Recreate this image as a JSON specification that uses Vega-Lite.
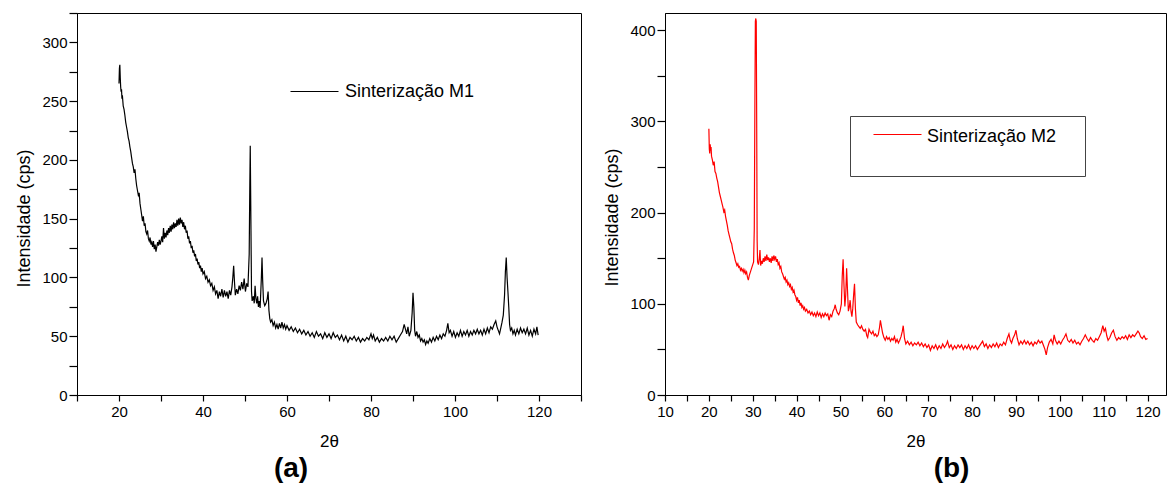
{
  "$schema": "https://vega.github.io/schema/vega-lite/v6.json",
  "padding": {"left": 15, "top": 11, "right": 0, "bottom": 0},
  "background": "white",
  "config": {
    "view": {"stroke": "black", "strokeWidth": 1},
    "font": "Liberation Sans",
    "axis": {"grid": false, "domainColor": "black", "tickColor": "black", "labelColor": "black", "titleColor": "black", "labelFont": "Liberation Sans", "titleFont": "Liberation Sans", "labelFontSize": 15, "titleFontSize": 18, "titleFontWeight": "normal", "domainWidth": 1, "tickWidth": 1.2, "ticks": true},
    "legend": {"labelFont": "Liberation Sans", "labelFontSize": 18, "labelColor": "black", "symbolType": "stroke", "symbolSize": 2304, "symbolStrokeWidth": 1}
  },
  "datasets": {
    "m1": [
      {"x":20,"y":265},{"x":20.1,"y":278},{"x":20.2,"y":281},{"x":20.3,"y":270},{"x":20.4,"y":262},{"x":20.5,"y":258},{"x":20.6,"y":260},{"x":20.7,"y":252},{"x":20.8,"y":255},{"x":21,"y":246},{"x":21.2,"y":243},{"x":21.4,"y":238},{"x":21.6,"y":232},{"x":21.8,"y":228},{"x":22,"y":224},{"x":22.2,"y":219},{"x":22.4,"y":216},{"x":22.6,"y":211},{"x":22.8,"y":207},{"x":23,"y":202},{"x":23.2,"y":197},{"x":23.4,"y":194},{"x":23.6,"y":189},{"x":23.8,"y":192},{"x":24,"y":184},{"x":24.2,"y":178},{"x":24.4,"y":174},{"x":24.6,"y":170},{"x":24.8,"y":172},{"x":25,"y":163},{"x":25.2,"y":158},{"x":25.4,"y":153},{"x":25.6,"y":148},{"x":25.8,"y":152},{"x":26,"y":144},{"x":26.2,"y":146},{"x":26.4,"y":139},{"x":26.6,"y":137},{"x":26.8,"y":140},{"x":27,"y":133},{"x":27.2,"y":131},{"x":27.4,"y":134},{"x":27.6,"y":128},{"x":27.8,"y":130},{"x":28,"y":126},{"x":28.2,"y":131},{"x":28.4,"y":124},{"x":28.6,"y":128},{"x":28.8,"y":122},{"x":29,"y":126},{"x":29.2,"y":130},{"x":29.4,"y":127},{"x":29.6,"y":132},{"x":29.8,"y":128},{"x":30,"y":131},{"x":30.2,"y":135},{"x":30.4,"y":130},{"x":30.6,"y":142},{"x":30.8,"y":133},{"x":31,"y":138},{"x":31.2,"y":134},{"x":31.4,"y":140},{"x":31.6,"y":136},{"x":31.8,"y":142},{"x":32,"y":138},{"x":32.2,"y":144},{"x":32.4,"y":139},{"x":32.6,"y":145},{"x":32.8,"y":141},{"x":33,"y":147},{"x":33.2,"y":142},{"x":33.4,"y":146},{"x":33.6,"y":143},{"x":33.8,"y":149},{"x":34,"y":144},{"x":34.2,"y":150},{"x":34.4,"y":145},{"x":34.6,"y":151},{"x":34.8,"y":146},{"x":35,"y":149},{"x":35.2,"y":143},{"x":35.4,"y":147},{"x":35.6,"y":141},{"x":35.8,"y":144},{"x":36,"y":138},{"x":36.2,"y":140},{"x":36.4,"y":133},{"x":36.6,"y":135},{"x":36.8,"y":129},{"x":37,"y":131},{"x":37.2,"y":125},{"x":37.4,"y":127},{"x":37.6,"y":121},{"x":37.8,"y":123},{"x":38,"y":118},{"x":38.2,"y":120},{"x":38.4,"y":114},{"x":38.6,"y":116},{"x":38.8,"y":111},{"x":39,"y":113},{"x":39.2,"y":108},{"x":39.4,"y":110},{"x":39.6,"y":105},{"x":39.8,"y":108},{"x":40,"y":103},{"x":40.3,"y":105},{"x":40.6,"y":99},{"x":40.9,"y":101},{"x":41.2,"y":96},{"x":41.5,"y":98},{"x":41.8,"y":93},{"x":42.1,"y":95},{"x":42.4,"y":89},{"x":42.7,"y":92},{"x":43,"y":86},{"x":43.3,"y":89},{"x":43.6,"y":82},{"x":43.9,"y":88},{"x":44.2,"y":84},{"x":44.5,"y":90},{"x":44.8,"y":83},{"x":45.1,"y":89},{"x":45.4,"y":84},{"x":45.7,"y":88},{"x":46,"y":82},{"x":46.3,"y":89},{"x":46.6,"y":85},{"x":46.9,"y":92},{"x":47.1,"y":100},{"x":47.3,"y":110},{"x":47.5,"y":96},{"x":47.7,"y":85},{"x":48,"y":90},{"x":48.3,"y":86},{"x":48.6,"y":93},{"x":48.9,"y":89},{"x":49.2,"y":96},{"x":49.5,"y":90},{"x":49.8,"y":99},{"x":50.1,"y":88},{"x":50.4,"y":95},{"x":50.7,"y":92},{"x":51,"y":120},{"x":51.15,"y":180},{"x":51.25,"y":212},{"x":51.4,"y":150},{"x":51.55,"y":88},{"x":51.7,"y":80},{"x":52,"y":84},{"x":52.2,"y":78},{"x":52.4,"y":93},{"x":52.6,"y":82},{"x":52.8,"y":78},{"x":53,"y":84},{"x":53.2,"y":75},{"x":53.4,"y":80},{"x":53.6,"y":74},{"x":53.9,"y":100},{"x":54.05,"y":117},{"x":54.2,"y":98},{"x":54.4,"y":80},{"x":54.7,"y":76},{"x":55,"y":78},{"x":55.3,"y":82},{"x":55.5,"y":88},{"x":55.7,"y":72},{"x":55.9,"y":65},{"x":56.1,"y":62},{"x":56.4,"y":64},{"x":56.7,"y":59},{"x":57,"y":62},{"x":57.3,"y":57},{"x":57.6,"y":60},{"x":57.9,"y":56},{"x":58.2,"y":61},{"x":58.5,"y":57},{"x":58.8,"y":62},{"x":59.1,"y":57},{"x":59.4,"y":60},{"x":59.7,"y":56},{"x":60,"y":59},{"x":60.5,"y":55},{"x":61,"y":58},{"x":61.5,"y":54},{"x":62,"y":57},{"x":62.5,"y":53},{"x":63,"y":56},{"x":63.5,"y":52},{"x":64,"y":55},{"x":64.5,"y":51},{"x":65,"y":54},{"x":65.5,"y":50},{"x":66,"y":53},{"x":66.5,"y":49},{"x":67,"y":54},{"x":67.5,"y":50},{"x":68,"y":52},{"x":68.5,"y":48},{"x":69,"y":53},{"x":69.5,"y":49},{"x":70,"y":52},{"x":70.5,"y":48},{"x":71,"y":53},{"x":71.5,"y":49},{"x":72,"y":51},{"x":72.5,"y":47},{"x":73,"y":51},{"x":73.5,"y":46},{"x":74,"y":50},{"x":74.5,"y":45},{"x":75,"y":49},{"x":75.5,"y":47},{"x":76,"y":50},{"x":76.5,"y":46},{"x":77,"y":49},{"x":77.5,"y":45},{"x":78,"y":48},{"x":78.5,"y":46},{"x":79,"y":49},{"x":79.5,"y":47},{"x":80,"y":52},{"x":80.3,"y":48},{"x":80.6,"y":51},{"x":81,"y":46},{"x":81.5,"y":49},{"x":82,"y":45},{"x":82.5,"y":48},{"x":83,"y":46},{"x":83.5,"y":49},{"x":84,"y":46},{"x":84.5,"y":50},{"x":85,"y":47},{"x":85.5,"y":50},{"x":86,"y":45},{"x":86.5,"y":48},{"x":87,"y":51},{"x":87.5,"y":54},{"x":87.9,"y":60},{"x":88.2,"y":56},{"x":88.5,"y":52},{"x":88.8,"y":58},{"x":89.1,"y":50},{"x":89.5,"y":55},{"x":89.8,"y":70},{"x":90,"y":87},{"x":90.2,"y":75},{"x":90.4,"y":55},{"x":90.6,"y":50},{"x":90.9,"y":54},{"x":91.2,"y":49},{"x":91.5,"y":51},{"x":91.8,"y":46},{"x":92.1,"y":48},{"x":92.4,"y":45},{"x":92.7,"y":47},{"x":93,"y":43},{"x":93.3,"y":46},{"x":93.6,"y":44},{"x":94,"y":48},{"x":94.4,"y":45},{"x":94.8,"y":49},{"x":95.2,"y":46},{"x":95.6,"y":50},{"x":96,"y":47},{"x":96.4,"y":51},{"x":96.8,"y":48},{"x":97.2,"y":52},{"x":97.6,"y":50},{"x":98,"y":55},{"x":98.3,"y":61},{"x":98.6,"y":53},{"x":98.9,"y":55},{"x":99.3,"y":50},{"x":99.7,"y":54},{"x":100.1,"y":49},{"x":100.5,"y":53},{"x":100.9,"y":50},{"x":101.3,"y":55},{"x":101.7,"y":50},{"x":102.1,"y":54},{"x":102.5,"y":51},{"x":102.9,"y":55},{"x":103.3,"y":50},{"x":103.7,"y":54},{"x":104.1,"y":51},{"x":104.5,"y":55},{"x":104.9,"y":52},{"x":105.3,"y":56},{"x":105.7,"y":52},{"x":106.1,"y":55},{"x":106.5,"y":51},{"x":106.9,"y":56},{"x":107.3,"y":52},{"x":107.7,"y":57},{"x":108.1,"y":53},{"x":108.5,"y":58},{"x":108.9,"y":56},{"x":109.3,"y":60},{"x":109.7,"y":63},{"x":110,"y":58},{"x":110.3,"y":55},{"x":110.6,"y":52},{"x":110.9,"y":57},{"x":111.2,"y":62},{"x":111.5,"y":68},{"x":111.8,"y":85},{"x":112,"y":105},{"x":112.2,"y":117},{"x":112.4,"y":100},{"x":112.6,"y":88},{"x":112.8,"y":75},{"x":113,"y":60},{"x":113.2,"y":55},{"x":113.5,"y":57},{"x":113.8,"y":52},{"x":114.1,"y":55},{"x":114.4,"y":51},{"x":114.8,"y":56},{"x":115.2,"y":52},{"x":115.6,"y":57},{"x":116,"y":53},{"x":116.4,"y":56},{"x":116.8,"y":52},{"x":117.2,"y":57},{"x":117.6,"y":51},{"x":118,"y":55},{"x":118.4,"y":50},{"x":118.8,"y":56},{"x":119.2,"y":52},{"x":119.5,"y":58},{"x":119.8,"y":51}
    ],
    "m2": [
      {"x":20,"y":292},{"x":20.1,"y":270},{"x":20.2,"y":265},{"x":20.3,"y":275},{"x":20.4,"y":268},{"x":20.5,"y":272},{"x":20.6,"y":262},{"x":20.8,"y":258},{"x":21,"y":252},{"x":21.2,"y":256},{"x":21.4,"y":245},{"x":21.6,"y":243},{"x":21.8,"y":238},{"x":22,"y":234},{"x":22.2,"y":228},{"x":22.4,"y":222},{"x":22.6,"y":218},{"x":22.8,"y":214},{"x":23,"y":210},{"x":23.2,"y":206},{"x":23.4,"y":201},{"x":23.6,"y":203},{"x":23.8,"y":196},{"x":24,"y":191},{"x":24.2,"y":186},{"x":24.4,"y":180},{"x":24.6,"y":176},{"x":24.8,"y":172},{"x":25,"y":168},{"x":25.2,"y":166},{"x":25.4,"y":160},{"x":25.6,"y":156},{"x":25.8,"y":153},{"x":26,"y":148},{"x":26.2,"y":145},{"x":26.4,"y":142},{"x":26.6,"y":144},{"x":26.8,"y":140},{"x":27,"y":141},{"x":27.2,"y":137},{"x":27.4,"y":139},{"x":27.6,"y":136},{"x":27.8,"y":138},{"x":28,"y":134},{"x":28.2,"y":137},{"x":28.4,"y":133},{"x":28.6,"y":135},{"x":28.8,"y":129},{"x":29,"y":126},{"x":29.2,"y":131},{"x":29.4,"y":134},{"x":29.6,"y":137},{"x":29.8,"y":140},{"x":30,"y":143},{"x":30.2,"y":146},{"x":30.35,"y":182},{"x":30.5,"y":330},{"x":30.6,"y":410},{"x":30.7,"y":413},{"x":30.8,"y":410},{"x":30.9,"y":300},{"x":31,"y":170},{"x":31.1,"y":146},{"x":31.3,"y":143},{"x":31.5,"y":150},{"x":31.65,"y":159},{"x":31.8,"y":142},{"x":32,"y":147},{"x":32.2,"y":144},{"x":32.4,"y":150},{"x":32.6,"y":146},{"x":32.8,"y":152},{"x":33,"y":147},{"x":33.2,"y":154},{"x":33.4,"y":148},{"x":33.6,"y":151},{"x":33.8,"y":146},{"x":34,"y":150},{"x":34.2,"y":145},{"x":34.4,"y":152},{"x":34.6,"y":147},{"x":34.8,"y":153},{"x":35,"y":149},{"x":35.2,"y":152},{"x":35.4,"y":146},{"x":35.6,"y":149},{"x":35.8,"y":143},{"x":36,"y":145},{"x":36.2,"y":139},{"x":36.4,"y":141},{"x":36.6,"y":135},{"x":36.8,"y":133},{"x":37,"y":130},{"x":37.2,"y":127},{"x":37.4,"y":129},{"x":37.6,"y":124},{"x":37.8,"y":126},{"x":38,"y":121},{"x":38.2,"y":123},{"x":38.4,"y":119},{"x":38.6,"y":121},{"x":38.8,"y":116},{"x":39,"y":118},{"x":39.2,"y":113},{"x":39.4,"y":115},{"x":39.6,"y":110},{"x":39.8,"y":108},{"x":40,"y":104},{"x":40.2,"y":107},{"x":40.4,"y":101},{"x":40.6,"y":104},{"x":40.8,"y":98},{"x":41,"y":101},{"x":41.2,"y":96},{"x":41.4,"y":98},{"x":41.6,"y":94},{"x":41.8,"y":96},{"x":42,"y":92},{"x":42.3,"y":94},{"x":42.6,"y":90},{"x":42.9,"y":92},{"x":43.2,"y":88},{"x":43.5,"y":91},{"x":43.8,"y":87},{"x":44.1,"y":90},{"x":44.4,"y":86},{"x":44.7,"y":91},{"x":45,"y":87},{"x":45.3,"y":90},{"x":45.6,"y":85},{"x":45.9,"y":89},{"x":46.2,"y":86},{"x":46.5,"y":90},{"x":46.8,"y":87},{"x":47.1,"y":89},{"x":47.4,"y":82},{"x":47.7,"y":88},{"x":48,"y":86},{"x":48.3,"y":92},{"x":48.6,"y":95},{"x":48.8,"y":99},{"x":49,"y":94},{"x":49.3,"y":90},{"x":49.6,"y":88},{"x":49.9,"y":92},{"x":50.2,"y":100},{"x":50.4,"y":130},{"x":50.6,"y":149},{"x":50.8,"y":120},{"x":51,"y":97},{"x":51.2,"y":110},{"x":51.4,"y":139},{"x":51.6,"y":115},{"x":51.8,"y":92},{"x":52,"y":96},{"x":52.2,"y":104},{"x":52.4,"y":92},{"x":52.6,"y":86},{"x":52.8,"y":95},{"x":53,"y":110},{"x":53.2,"y":122},{"x":53.4,"y":95},{"x":53.6,"y":80},{"x":53.9,"y":77},{"x":54.2,"y":75},{"x":54.5,"y":73},{"x":54.8,"y":76},{"x":55.1,"y":72},{"x":55.4,"y":70},{"x":55.7,"y":72},{"x":56,"y":65},{"x":56.2,"y":63},{"x":56.5,"y":72},{"x":56.8,"y":69},{"x":57.1,"y":67},{"x":57.4,"y":70},{"x":57.7,"y":65},{"x":58,"y":67},{"x":58.3,"y":64},{"x":58.6,"y":66},{"x":58.9,"y":74},{"x":59.1,"y":82},{"x":59.3,"y":76},{"x":59.6,"y":68},{"x":59.9,"y":63},{"x":60.2,"y":60},{"x":60.5,"y":64},{"x":60.8,"y":61},{"x":61.1,"y":63},{"x":61.4,"y":59},{"x":61.7,"y":62},{"x":62,"y":60},{"x":62.3,"y":64},{"x":62.6,"y":58},{"x":62.9,"y":61},{"x":63.2,"y":57},{"x":63.5,"y":60},{"x":63.8,"y":64},{"x":64.1,"y":70},{"x":64.3,"y":76},{"x":64.6,"y":62},{"x":64.9,"y":56},{"x":65.3,"y":59},{"x":65.7,"y":55},{"x":66.1,"y":58},{"x":66.5,"y":54},{"x":66.9,"y":57},{"x":67.3,"y":55},{"x":67.7,"y":58},{"x":68.1,"y":54},{"x":68.5,"y":57},{"x":68.9,"y":53},{"x":69.3,"y":56},{"x":69.7,"y":52},{"x":70.1,"y":55},{"x":70.5,"y":49},{"x":70.9,"y":54},{"x":71.3,"y":51},{"x":71.7,"y":55},{"x":72.1,"y":50},{"x":72.5,"y":54},{"x":72.9,"y":51},{"x":73.3,"y":56},{"x":73.7,"y":52},{"x":74.1,"y":55},{"x":74.4,"y":59},{"x":74.8,"y":52},{"x":75.2,"y":55},{"x":75.6,"y":50},{"x":76,"y":54},{"x":76.4,"y":51},{"x":76.8,"y":55},{"x":77.2,"y":52},{"x":77.6,"y":55},{"x":78,"y":50},{"x":78.4,"y":54},{"x":78.8,"y":51},{"x":79.2,"y":55},{"x":79.6,"y":50},{"x":80,"y":54},{"x":80.4,"y":51},{"x":80.8,"y":54},{"x":81.2,"y":50},{"x":81.6,"y":53},{"x":82,"y":56},{"x":82.4,"y":59},{"x":82.8,"y":53},{"x":83.2,"y":56},{"x":83.6,"y":51},{"x":84,"y":55},{"x":84.4,"y":52},{"x":84.8,"y":56},{"x":85.2,"y":53},{"x":85.6,"y":57},{"x":86,"y":52},{"x":86.4,"y":56},{"x":86.8,"y":54},{"x":87.2,"y":58},{"x":87.6,"y":55},{"x":88,"y":62},{"x":88.4,"y":67},{"x":88.7,"y":60},{"x":89,"y":57},{"x":89.3,"y":62},{"x":89.7,"y":66},{"x":90,"y":71},{"x":90.3,"y":62},{"x":90.7,"y":55},{"x":91.1,"y":59},{"x":91.5,"y":56},{"x":91.9,"y":60},{"x":92.3,"y":56},{"x":92.7,"y":59},{"x":93.1,"y":55},{"x":93.5,"y":58},{"x":93.9,"y":54},{"x":94.3,"y":58},{"x":94.7,"y":56},{"x":95.1,"y":60},{"x":95.5,"y":57},{"x":95.9,"y":59},{"x":96.3,"y":54},{"x":96.6,"y":50},{"x":96.9,"y":44},{"x":97.2,"y":52},{"x":97.6,"y":58},{"x":98,"y":61},{"x":98.4,"y":56},{"x":98.7,"y":66},{"x":99,"y":60},{"x":99.4,"y":56},{"x":99.8,"y":59},{"x":100.2,"y":56},{"x":100.6,"y":60},{"x":101,"y":63},{"x":101.4,"y":67},{"x":101.8,"y":60},{"x":102.2,"y":58},{"x":102.6,"y":61},{"x":103,"y":57},{"x":103.4,"y":60},{"x":103.8,"y":56},{"x":104.2,"y":58},{"x":104.6,"y":55},{"x":105,"y":59},{"x":105.4,"y":62},{"x":105.8,"y":66},{"x":106.2,"y":62},{"x":106.6,"y":59},{"x":107,"y":63},{"x":107.4,"y":60},{"x":107.8,"y":58},{"x":108.2,"y":62},{"x":108.6,"y":60},{"x":109,"y":64},{"x":109.4,"y":68},{"x":109.8,"y":76},{"x":110.1,"y":70},{"x":110.4,"y":73},{"x":110.7,"y":65},{"x":111,"y":60},{"x":111.4,"y":63},{"x":111.8,"y":68},{"x":112.2,"y":71},{"x":112.6,"y":64},{"x":113,"y":60},{"x":113.4,"y":63},{"x":113.8,"y":61},{"x":114.2,"y":64},{"x":114.6,"y":62},{"x":115,"y":65},{"x":115.4,"y":61},{"x":115.8,"y":66},{"x":116.2,"y":63},{"x":116.6,"y":66},{"x":117,"y":64},{"x":117.4,"y":67},{"x":117.8,"y":70},{"x":118.1,"y":68},{"x":118.4,"y":64},{"x":118.8,"y":62},{"x":119.2,"y":65},{"x":119.6,"y":61},{"x":120,"y":62}
    ]
  },
  "hconcat": [
    {
      "width": 504,
      "height": 382,
      "data": {"name": "m1"},
      "mark": {"type": "line", "strokeWidth": 1.2},
      "title": {"text": "(a)", "orient": "bottom", "anchor": "middle", "dx": -38, "fontSize": 28, "fontWeight": "bold", "font": "Liberation Sans", "color": "black", "offset": 6},
      "encoding": {
        "x": {"field": "x", "type": "quantitative", "scale": {"domain": [10, 130], "nice": false, "zero": false},
          "axis": {"title": "2θ", "titleFontSize": 17, "values": [10,20,30,40,50,60,70,80,90,100,110,120,130], "labelExpr": "datum.value % 20 === 0 && datum.value >= 20 && datum.value <= 120 ? datum.label : ''", "tickSize": 6, "labelPadding": 3, "titlePadding": 14, "labelFlush": false}},
        "y": {"field": "y", "type": "quantitative", "scale": {"domain": [0, 325], "nice": false},
          "axis": {"title": "Intensidade (cps)", "values": [0,25,50,75,100,125,150,175,200,225,250,275,300,325], "labelExpr": "datum.value % 50 === 0 ? datum.label : ''", "tickSize": 8, "labelPadding": 2, "titlePadding": 8, "titleY": 205, "labelFlush": false}},
        "color": {"datum": "Sinterização M1", "type": "nominal", "scale": {"range": ["#000000"]},
          "legend": {"title": null, "orient": "none", "legendX": 213, "legendY": 54, "padding": 0, "labelOffset": 6}}
      }
    },
    {
      "width": 501,
      "height": 382,
      "data": {"name": "m2"},
      "mark": {"type": "line", "strokeWidth": 1.2},
      "title": {"text": "(b)", "orient": "bottom", "anchor": "middle", "dx": 36, "fontSize": 28, "fontWeight": "bold", "font": "Liberation Sans", "color": "black", "offset": 6},
      "encoding": {
        "x": {"field": "x", "type": "quantitative", "scale": {"domain": [10, 124.2], "nice": false, "zero": false},
          "axis": {"title": "2θ", "titleFontSize": 17, "values": [10,15,20,25,30,35,40,45,50,55,60,65,70,75,80,85,90,95,100,105,110,115,120], "labelExpr": "datum.value % 10 === 0 ? datum.label : ''", "tickSize": 6, "labelPadding": 3, "titlePadding": 14, "labelFlush": false}},
        "y": {"field": "y", "type": "quantitative", "scale": {"domain": [0, 419], "nice": false},
          "axis": {"title": "Intensidade (cps)", "values": [0,50,100,150,200,250,300,350,400], "labelExpr": "datum.value % 100 === 0 ? datum.label : ''", "tickSize": 8, "labelPadding": 2, "titlePadding": 8, "titleY": 204, "labelFlush": false}},
        "color": {"datum": "Sinterização M2", "type": "nominal", "scale": {"range": ["#ff0000"]},
          "legend": {"title": null, "orient": "none", "legendX": 185, "legendY": 103, "padding": 18, "symbolType": "M-2.087,-1H2.087M14.5,0.85", "symbolSize": 529, "symbolOffset": 17.5, "labelOffset": 17.5, "labelBaseline": "bottom", "strokeColor": "#444444"}}
      }
    }
  ],
  "spacing": 20,
  "resolve": {"scale": {"color": "independent"}, "legend": {"color": "independent"}}
}
